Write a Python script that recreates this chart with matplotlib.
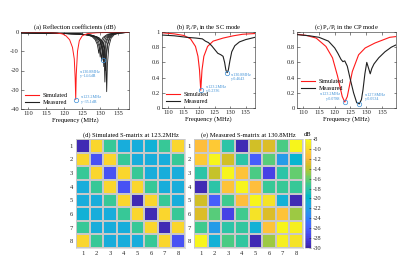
import numpy as np
import matplotlib
matplotlib.use("Agg")
import matplotlib.pyplot as plt
from matplotlib.colors import ListedColormap

plt.rcParams['font.family'] = ['Liberation Serif', 'DejaVu Serif']
plt.rcParams['mathtext.fontset'] = 'custom'
plt.rcParams['mathtext.rm'] = 'Liberation Serif'
plt.rcParams['axes.unicode_minus'] = False

# ---------------- data ----------------
# (a) reflection coefficients (dB)
a_sim_f = [108, 112, 116, 118, 119.5, 120.5, 121.5, 122.3, 122.8, 123.05, 123.2, 123.35, 123.7, 124.2, 125, 126.5, 129, 133, 138]
a_sim_db = [-0.1, -0.15, -0.3, -0.5, -1.0, -2.0, -4.0, -8, -14, -24, -35.1, -22, -10, -4.5, -2.0, -0.8, -0.4, -0.2, -0.1]

a_meas_f = [
    [108, 115, 120, 124, 126.5, 127.8, 128.6, 129.2, 129.45, 129.6, 129.8, 130.2, 130.8, 132, 134, 138],
    [108, 115, 120, 124, 126.8, 128.1, 129.0, 129.6, 129.85, 130.0, 130.2, 130.6, 131.2, 132.4, 134.3, 138],
    [108, 115, 120, 124, 127.0, 128.4, 129.4, 130.0, 130.25, 130.4, 130.6, 131.0, 131.6, 132.7, 134.5, 138],
    [108, 115, 120, 124, 127.2, 128.7, 129.8, 130.4, 130.65, 130.8, 131.0, 131.4, 132.0, 133.0, 134.7, 138],
    [108, 115, 120, 124, 127.4, 128.9, 130.0, 130.6, 130.85, 131.0, 131.2, 131.6, 132.2, 133.2, 134.9, 138],
    [108, 115, 120, 124, 127.6, 129.2, 130.3, 130.9, 131.15, 131.3, 131.5, 131.9, 132.5, 133.4, 135.0, 138],
    [108, 115, 120, 124, 127.7, 129.4, 130.5, 131.1, 131.35, 131.5, 131.7, 132.1, 132.7, 133.6, 135.2, 138],
    [108, 115, 120, 124, 128.0, 129.7, 130.8, 131.4, 131.65, 131.8, 132.0, 132.4, 133.0, 133.9, 135.4, 138],
]
a_meas_db = [
    [-0.4, -0.6, -0.8, -1.0, -1.5, -2.5, -4.0, -6.5, -9.0, -11.0, -8.5, -5.0, -2.8, -1.2, -0.5, -0.2],
    [-0.4, -0.6, -0.8, -1.0, -1.5, -2.5, -4.2, -7.0, -10.0, -13.0, -9.5, -5.2, -2.8, -1.2, -0.5, -0.2],
    [-0.4, -0.6, -0.8, -1.0, -1.6, -2.6, -4.4, -7.5, -11.0, -15.0, -10.5, -5.5, -2.9, -1.2, -0.5, -0.2],
    [-0.4, -0.6, -0.8, -1.0, -1.6, -2.6, -4.4, -7.5, -11.0, -14.6, -10.5, -5.5, -2.9, -1.2, -0.5, -0.2],
    [-0.4, -0.6, -0.8, -1.0, -1.6, -2.7, -4.6, -8.0, -12.5, -18.0, -12.0, -6.0, -3.0, -1.3, -0.5, -0.2],
    [-0.4, -0.6, -0.8, -1.0, -1.7, -2.8, -5.0, -9.5, -16.0, -26.0, -15.0, -7.0, -3.2, -1.3, -0.5, -0.2],
    [-0.4, -0.6, -0.8, -1.0, -1.7, -2.8, -4.8, -8.5, -13.5, -20.0, -13.0, -6.5, -3.1, -1.3, -0.5, -0.2],
    [-0.4, -0.6, -0.8, -1.0, -1.8, -3.0, -5.2, -10.0, -18.0, -31.0, -17.0, -7.5, -3.3, -1.4, -0.5, -0.2],
]

# (b) P_r/P_i in the SC mode
b_sim_f = [108, 112, 115, 117.2, 118.8, 119.6, 120.1, 120.5, 120.9, 121.5, 122.7, 124.5, 127.7, 131, 134, 138]
b_sim_p = [0.99, 0.975, 0.955, 0.91, 0.81, 0.68, 0.5, 0.2336, 0.5, 0.68, 0.81, 0.88, 0.92, 0.95, 0.97, 0.98]
b_meas_f = [108, 112, 116, 119, 121, 122, 123, 124, 125, 126, 127, 127.7, 128.2, 128.6, 129.0, 129.4, 129.9, 130.5, 131.5, 133, 135, 138]
b_meas_p = [0.96, 0.95, 0.93, 0.92, 0.91, 0.88, 0.86, 0.82, 0.77, 0.72, 0.70, 0.68, 0.60, 0.50, 0.4643, 0.50, 0.62, 0.74, 0.82, 0.87, 0.90, 0.93]

# (c) P_r/P_i in the CP mode
c_sim_f = [108, 111, 114.1, 117.2, 119.3, 120.9, 122.4, 123.2, 124.0, 125.6, 127.6, 129.7, 132.8, 137.5, 139.5]
c_sim_p = [0.97, 0.955, 0.92, 0.81, 0.66, 0.42, 0.15, 0.0788, 0.15, 0.48, 0.70, 0.79, 0.855, 0.93, 0.94]
c_meas_f = [108, 112, 115, 118, 120, 121, 122, 122.6, 123.2, 124, 125, 126, 127, 127.8, 128.5, 129, 129.6, 130.2, 130.8, 131.3, 131.8, 132.5, 134, 136, 138, 139.5]
c_meas_p = [0.965, 0.95, 0.93, 0.88, 0.79, 0.72, 0.64, 0.61, 0.62, 0.55, 0.37, 0.20, 0.07, 0.0534, 0.11, 0.24, 0.45, 0.60, 0.52, 0.45, 0.52, 0.58, 0.66, 0.74, 0.80, 0.83]

# (d) simulated S-matrix at 123.2 MHz (dB)
s_sim = [
    [-29.5, -10.4, -17.6, -20.8, -20.8, -20.5, -17.6, -10.4],
    [-10.4, -26.9, -10.4, -17.6, -20.8, -20.8, -20.8, -17.6],
    [-17.6, -10.4, -26.9, -10.4, -17.6, -20.8, -20.8, -20.8],
    [-20.8, -17.6, -10.4, -26.9, -10.4, -17.6, -20.8, -20.8],
    [-20.8, -20.8, -17.6, -10.4, -29.5, -10.4, -17.6, -20.8],
    [-20.5, -20.8, -20.8, -17.6, -10.4, -29.5, -10.4, -17.6],
    [-17.6, -20.8, -20.8, -20.8, -17.6, -10.4, -29.5, -10.4],
    [-10.4, -17.6, -20.8, -20.8, -20.8, -17.6, -10.4, -26.9],
]
# (e) measured S-matrix at 130.8 MHz (dB)
s_meas = [
    [-11.5, -10.8, -18.0, -29.5, -13.3, -13.0, -16.8, -8.6],
    [-10.8, -8.5, -13.5, -18.0, -26.2, -16.3, -22.3, -20.3],
    [-18.0, -13.6, -8.5, -11.3, -16.8, -27.6, -18.0, -16.2],
    [-29.5, -18.0, -11.3, -8.5, -11.6, -17.3, -17.6, -17.6],
    [-13.3, -26.2, -17.0, -11.6, -8.5, -9.6, -20.4, -29.5],
    [-13.0, -16.3, -27.6, -17.2, -9.5, -13.0, -11.2, -14.6],
    [-17.0, -22.3, -18.0, -17.8, -20.4, -11.2, -8.5, -9.0],
    [-8.6, -20.4, -16.6, -17.8, -29.5, -14.6, -9.0, -9.6],
]
ports = [1, 2, 3, 4, 5, 6, 7, 8]
cbar_ticks = [-8, -10, -12, -14, -16, -18, -20, -22, -24, -26, -28, -30]

# ---------------- style ----------------
parula = ListedColormap([
    (0.2422, 0.1504, 0.6603), (0.2504, 0.1650, 0.7076), (0.2578, 0.1818, 0.7511), (0.2647, 0.1978, 0.7952),
    (0.2706, 0.2147, 0.8364), (0.2751, 0.2342, 0.8710), (0.2783, 0.2559, 0.8991), (0.2803, 0.2782, 0.9221),
    (0.2813, 0.3006, 0.9414), (0.2810, 0.3228, 0.9579), (0.2795, 0.3447, 0.9717), (0.2760, 0.3667, 0.9829),
    (0.2699, 0.3892, 0.9906), (0.2602, 0.4123, 0.9952), (0.2440, 0.4358, 0.9988), (0.2206, 0.4603, 0.9973),
    (0.1963, 0.4847, 0.9892), (0.1834, 0.5074, 0.9798), (0.1786, 0.5289, 0.9682), (0.1764, 0.5499, 0.9520),
    (0.1687, 0.5703, 0.9359), (0.1540, 0.5902, 0.9218), (0.1460, 0.6091, 0.9079), (0.1380, 0.6276, 0.8973),
    (0.1248, 0.6459, 0.8883), (0.1113, 0.6635, 0.8763), (0.0952, 0.6798, 0.8598), (0.0689, 0.6948, 0.8394),
    (0.0297, 0.7082, 0.8163), (0.0036, 0.7203, 0.7917), (0.0067, 0.7312, 0.7660), (0.0433, 0.7411, 0.7394),
    (0.0964, 0.7500, 0.7120), (0.1408, 0.7584, 0.6842), (0.1717, 0.7670, 0.6554), (0.1938, 0.7758, 0.6251),
    (0.2161, 0.7843, 0.5923), (0.2470, 0.7918, 0.5567), (0.2906, 0.7973, 0.5188), (0.3406, 0.8008, 0.4789),
    (0.3909, 0.8029, 0.4354), (0.4456, 0.8024, 0.3909), (0.5044, 0.7993, 0.3480), (0.5616, 0.7942, 0.3045),
    (0.6174, 0.7876, 0.2612), (0.6720, 0.7793, 0.2227), (0.7242, 0.7698, 0.1910), (0.7738, 0.7598, 0.1646),
    (0.8203, 0.7498, 0.1535), (0.8634, 0.7406, 0.1596), (0.9035, 0.7330, 0.1774), (0.9393, 0.7288, 0.2100),
    (0.9728, 0.7298, 0.2394), (0.9956, 0.7434, 0.2371), (0.9970, 0.7659, 0.2199), (0.9952, 0.7893, 0.2028),
    (0.9892, 0.8136, 0.1885), (0.9786, 0.8386, 0.1766), (0.9676, 0.8639, 0.1643), (0.9610, 0.8890, 0.1537),
    (0.9597, 0.9135, 0.1423), (0.9628, 0.9373, 0.1265), (0.9691, 0.9606, 0.1064), (0.9769, 0.9839, 0.0805)],
    name='parula')

RED = '#ff1a1a'
BLK = '#202020'
ANN = '#3c8fd6'
FS = 4.7
FS_LEG = 4.4
FS_ANN = 3.0

W, H = 400, 268
fig = plt.figure(figsize=(W / 100, H / 100), dpi=100)

def rect(l, t, r, b):
    return [l / W, (H - b) / H, (r - l) / W, (b - t) / H]

def style_line_ax(ax, xlim, ylim, yticks, yticklabels=None):
    ax.set_xlim(*xlim)
    ax.set_ylim(*ylim)
    ax.set_xticks([110, 115, 120, 125, 130, 135])
    ax.set_yticks(yticks)
    if yticklabels is not None:
        ax.set_yticklabels(yticklabels)
    ax.tick_params(direction='in', length=1.8, width=0.4, labelsize=FS, pad=1.5,
                   top=True, right=True, colors='#262626')
    for s in ax.spines.values():
        s.set_linewidth(0.4)
        s.set_color('#262626')
    ax.set_xlabel('Frequency (MHz)', fontsize=FS, labelpad=0.5)

def annotate(ax, x, y, lines, dx, dy, ha='left'):
    ax.plot([x], [y], marker='o', ms=3.2, mfc='none', mec=ANN, mew=0.5, zorder=5)
    ax.annotate(lines, xy=(x, y), xytext=(dx, dy), textcoords='offset points',
                fontsize=FS_ANN, color=ANN, ha=ha, va='center', linespacing=1.1)

def legend(ax, **kw):
    ax.legend(fontsize=FS_LEG, frameon=False, handlelength=2.3, borderaxespad=0.3,
              labelspacing=0.25, handletextpad=0.5, **kw)

# (a)
ax = fig.add_axes(rect(21, 32, 129, 109))
for f, d in zip(a_meas_f, a_meas_db):
    ax.plot(f, d, color=BLK, lw=0.6)
ax.plot(a_sim_f, a_sim_db, color=RED, lw=0.7)
ax.plot([], [], color=RED, lw=0.8, label='Simulated')
ax.plot([], [], color=BLK, lw=0.8, label='Measured')
style_line_ax(ax, (108, 138), (-40, 0), [-40, -30, -20, -10, 0])
ax.set_title('(a) Reflection coefficients (dB)', fontsize=FS, pad=2.5)
annotate(ax, 130.8, -14.6, 'x:130.8MHz\ny:-14.6dB', -17, -10)
annotate(ax, 123.2, -35.1, 'x:123.2MHz\ny:-35.1dB', 4, 0)
legend(ax, loc='lower left')

# (b)
ax = fig.add_axes(rect(162, 32, 255, 108))
ax.plot(b_sim_f, b_sim_p, color=RED, lw=0.8, label='Simulated')
ax.plot(b_meas_f, b_meas_p, color=BLK, lw=0.8, label='Measured')
style_line_ax(ax, (108, 138), (0, 1), [0, 0.2, 0.4, 0.6, 0.8, 1],
              ['0', '0.2', '0.4', '0.6', '0.8', '1'])
ax.set_title(r'(b) P$_\mathregular{r}$/P$_\mathregular{i}$ in the SC mode', fontsize=FS, pad=2.5)
annotate(ax, b_sim_f[7], b_sim_p[7], 'x:123.2MHz\ny:0.2336', 3.5, 1)
annotate(ax, b_meas_f[14], b_meas_p[14], 'x:130.8MHz\ny:0.4643', 3, -3)
legend(ax, loc='lower left')

# (c)
ax = fig.add_axes(rect(297, 32, 396, 108))
ax.plot(c_sim_f, c_sim_p, color=RED, lw=0.8, label='Simulated')
ax.plot(c_meas_f, c_meas_p, color=BLK, lw=0.8, label='Measured')
style_line_ax(ax, (108, 139.5), (0, 1), [0, 0.2, 0.4, 0.6, 0.8, 1],
              ['0', '0.2', '0.4', '0.6', '0.8', '1'])
ax.set_title(r'(c) P$_\mathregular{r}$/P$_\mathregular{i}$ in the CP mode', fontsize=FS, pad=2.5)
annotate(ax, c_sim_f[7], c_sim_p[7], 'x:123.2MHz\ny:0.0788', -3, 4, ha='right')
annotate(ax, c_meas_f[13], c_meas_p[13], 'x:127.8MHz\ny:0.0534', 4, 5)
legend(ax, loc='center left', bbox_to_anchor=(0.0, 0.3))

# heatmaps
def heat(ax, m, title):
    mesh = ax.pcolormesh(np.arange(0.5, 9.5), np.arange(0.5, 9.5), np.array(m),
                         cmap=parula, vmin=-30, vmax=-8, edgecolors='#c8c8c8', linewidth=0.25)
    ax.set_xlim(0.5, 8.5)
    ax.set_ylim(8.5, 0.5)
    ax.set_xticks(ports)
    ax.set_yticks(ports)
    ax.tick_params(length=0, labelsize=FS, pad=2, colors='#262626')
    for s in ax.spines.values():
        s.set_linewidth(0.4)
        s.set_color('#c8c8c8')
    ax.set_title(title, fontsize=FS, pad=2)
    return mesh

axd = fig.add_axes(rect(76, 139, 185, 248))
heat(axd, s_sim, '(d) Simulated S-matrix at 123.2MHz')
axe = fig.add_axes(rect(194, 139, 303, 248))
mesh = heat(axe, s_meas, '(e) Measured S-matrix at 130.8MHz')

cax = fig.add_axes(rect(305, 139, 310.5, 248))
cb = fig.colorbar(mesh, cax=cax, ticks=cbar_ticks)
cb.ax.tick_params(labelsize=FS, length=1.5, width=0.4, direction='in', pad=1.5, colors='#262626')
cb.outline.set_linewidth(0.4)
cb.outline.set_edgecolor('#c8c8c8')
cax.set_title('dB', fontsize=FS, pad=2)

fig.savefig('out.png', dpi=100)
